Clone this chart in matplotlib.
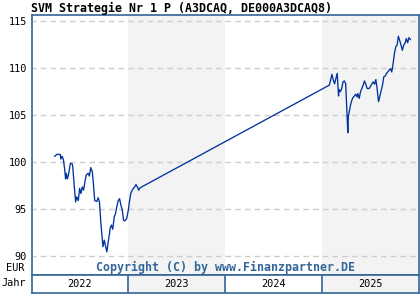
import matplotlib
matplotlib.use("Agg")
import matplotlib.pyplot as plt
import numpy as np
from datetime import datetime

title = "SVM Strategie Nr 1 P (A3DCAQ, DE000A3DCAQ8)"
currency = "EUR"
copyright_text = "Copyright (C) by www.Finanzpartner.DE"
year_label = "Jahr"
years = [2022, 2023, 2024, 2025]
y_ticks = [90, 95, 100, 105, 110, 115]

dates = [
    "2022-03-29", "2022-04-06", "2022-04-19", "2022-04-21", "2022-04-26", "2022-05-01",
    "2022-05-06", "2022-05-09", "2022-05-11", "2022-05-16", "2022-05-21", "2022-05-27",
    "2022-06-03", "2022-06-05", "2022-06-11", "2022-06-16", "2022-06-20", "2022-06-26",
    "2022-07-01", "2022-07-06", "2022-07-11", "2022-07-16", "2022-07-21", "2022-07-26",
    "2022-08-02", "2022-08-07", "2022-08-12", "2022-08-18", "2022-08-22", "2022-08-27",
    "2022-09-04", "2022-09-09", "2022-09-14", "2022-09-19", "2022-09-24", "2022-09-27",
    "2022-10-02", "2022-10-07", "2022-10-12", "2022-10-17", "2022-10-22", "2022-10-24",
    "2022-10-29", "2022-11-03", "2022-11-09", "2022-11-13", "2022-11-18", "2022-11-24",
    "2022-11-29", "2022-12-04", "2022-12-09", "2022-12-14", "2022-12-19", "2022-12-26",
    "2023-01-01", "2023-01-05", "2023-01-10", "2023-01-15", "2023-01-20", "2023-01-25",
    "2023-01-30", "2023-02-04", "2023-02-09", "2023-02-14",
    "2025-01-29", "2025-02-03", "2025-02-08", "2025-02-13", "2025-02-18", "2025-02-23",
    "2025-02-28", "2025-03-05", "2025-03-07", "2025-03-12", "2025-03-17", "2025-03-22",
    "2025-03-27", "2025-04-01", "2025-04-06", "2025-04-09", "2025-04-11", "2025-04-14",
    "2025-04-19", "2025-04-24", "2025-04-29", "2025-05-04", "2025-05-09", "2025-05-14",
    "2025-05-17", "2025-05-22", "2025-05-27", "2025-06-01", "2025-06-06", "2025-06-11",
    "2025-06-16", "2025-06-21", "2025-06-29", "2025-07-04", "2025-07-09", "2025-07-14",
    "2025-07-19", "2025-07-24", "2025-07-29", "2025-08-03", "2025-08-08", "2025-08-13",
    "2025-08-18", "2025-08-23", "2025-08-28", "2025-09-02", "2025-09-07", "2025-09-12",
    "2025-09-17", "2025-09-22", "2025-09-27", "2025-10-02", "2025-10-07", "2025-10-12",
    "2025-10-17", "2025-10-22", "2025-10-27", "2025-11-01", "2025-11-06", "2025-11-11",
    "2025-11-16", "2025-11-21", "2025-11-26", "2025-12-01",
]
values = [
    100.6, 100.8, 100.8, 100.3, 100.6, 100.2,
    99.1, 98.2, 98.8, 98.2, 98.8, 99.85,
    99.8, 99.5, 97.35, 95.75, 96.3, 95.9,
    97.2, 96.65, 97.35, 97.0, 97.9, 98.6,
    98.8, 98.5, 99.4, 98.95, 97.7, 95.9,
    95.8, 96.2, 95.75, 93.6, 91.9, 91.0,
    91.7, 91.05, 90.45, 91.5, 92.4, 92.95,
    93.3, 92.85, 94.2, 94.45, 95.2, 95.9,
    96.1, 95.4, 94.9, 93.8, 93.75, 94.0,
    94.9, 95.75, 96.65, 96.95, 97.2, 97.35,
    97.6, 97.35, 97.0, 97.25,
    108.15, 108.7, 109.3, 108.7, 108.3, 108.85,
    109.4, 107.0, 107.7, 107.45, 107.8, 108.5,
    108.6, 108.3, 105.15, 103.1, 104.8, 105.3,
    106.0, 106.55, 106.85, 107.0, 107.2, 106.9,
    107.25, 106.75, 107.45, 107.8, 108.15, 108.6,
    108.25, 107.8, 107.8, 108.05, 108.3, 108.5,
    108.25, 108.75, 107.7, 106.4, 107.0, 107.6,
    108.15, 109.05, 109.1, 109.4, 109.55, 109.75,
    109.9, 109.55, 110.45, 111.5, 112.2, 112.4,
    113.35, 112.9, 112.4, 111.85, 112.4, 112.6,
    113.1, 112.65, 113.2, 113.0,
]

frame_color = "#336699"
line_color = "#0033a0"
band_color = "#f3f3f3"
grid_color = "#cdcdcd"
mono = "DejaVu Sans Mono"

W, H = 420, 300
fig = plt.figure(figsize=(W / 100, H / 100), dpi=100)

left, right = 31.7, 418.5
top, bottom = 15, 274.5
band_bottom = 292.5

ax = fig.add_axes([left / W, 1 - bottom / H, (right - left) / W, (bottom - top) / H])
x = [datetime.strptime(d, "%Y-%m-%d") for d in dates]
xmin = datetime(years[0], 1, 1)
xmax = datetime(years[-1] + 1, 1, 1)

for i, yr in enumerate(years):
    if i % 2 == 1:
        ax.axvspan(datetime(yr, 1, 1), datetime(yr + 1, 1, 1), color=band_color, lw=0, zorder=0)

for t in y_ticks:
    ax.axhline(t, color=grid_color, lw=1, ls=(1, (4, 3)), zorder=1)

ax.plot(x, values, color=line_color, lw=0.95, zorder=3)
ax.set_xlim(xmin, xmax)
ax.set_ylim(88.05, 115.6)
ax.set_yticks(y_ticks)
ax.set_yticklabels([str(t) for t in y_ticks], family=mono, fontsize=7.4)
ax.tick_params(axis="y", length=0, pad=3.5)
ax.set_xticks([])
for s in ax.spines.values():
    s.set_color(frame_color)
    s.set_linewidth(1.2)
ax.patch.set_alpha(0)

ax.text(0.5, 0.0, copyright_text, transform=ax.transAxes, ha="center", va="bottom",
        family=mono, fontweight="bold", fontsize=8.4, color=frame_color)

# year band
bx = fig.add_axes([left / W, 1 - band_bottom / H, (right - left) / W, (band_bottom - bottom) / H])
bx.set_xlim(xmin, xmax)
bx.set_ylim(0, 1)
for i, yr in enumerate(years):
    if i % 2 == 1:
        bx.axvspan(datetime(yr, 1, 1), datetime(yr + 1, 1, 1), color=band_color, lw=0, zorder=0)
    if i > 0:
        bx.axvline(datetime(yr, 1, 1), color=frame_color, lw=1.2)
    mid = datetime(yr, 7, 2)
    bx.text(mid, 0.45, str(yr), ha="center", va="center", family=mono, fontsize=7.4)
bx.set_xticks([])
bx.set_yticks([])
for s in bx.spines.values():
    s.set_color(frame_color)
    s.set_linewidth(1.2)

fig.text(24 / W, 1 - 268 / H, currency, ha="right", va="center", family=mono, fontsize=7.4)
fig.text(1 / W, 1 - 283.5 / H, year_label, ha="left", va="center", family=mono, fontsize=7.4)
fig.text(31 / W, 1 - 8 / H, title, ha="left", va="center", family=mono, fontweight="bold",
         fontsize=8.4)

fig.savefig("out.png", dpi=100)
